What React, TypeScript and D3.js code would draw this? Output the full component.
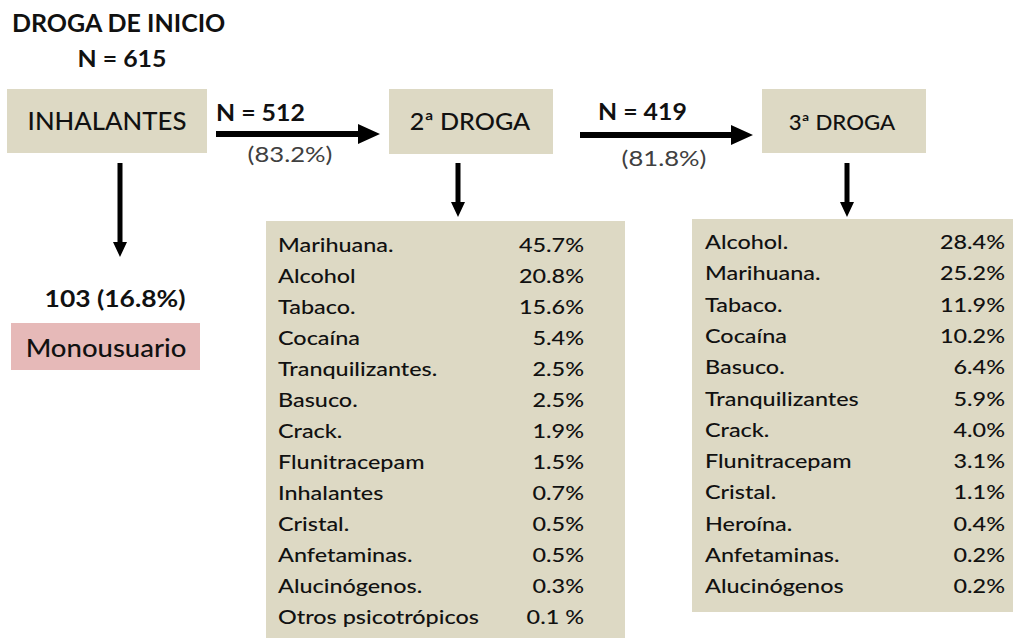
import * as d3 from "d3";

// stages of the flow
const stageLabels = ["INHALANTES", "2ª DROGA", "3ª DROGA"];
const flowN = ["N = 512", "N = 419"];
const flowPct = ["(83.2%)", "(81.8%)"];
const monoCount = "103 (16.8%)";

// second drug distribution
const secondDrugs = [
  "Marihuana.", "Alcohol", "Tabaco.", "Cocaína", "Tranquilizantes.", "Basuco.", "Crack.",
  "Flunitracepam", "Inhalantes", "Cristal.", "Anfetaminas.", "Alucinógenos.", "Otros psicotrópicos",
];
const secondPct = ["45.7%", "20.8%", "15.6%", "5.4%", "2.5%", "2.5%", "1.9%", "1.5%", "0.7%", "0.5%", "0.5%", "0.3%", "0.1 %"];

// third drug distribution
const thirdDrugs = [
  "Alcohol.", "Marihuana.", "Tabaco.", "Cocaína", "Basuco.", "Tranquilizantes", "Crack.",
  "Flunitracepam", "Cristal.", "Heroína.", "Anfetaminas.", "Alucinógenos",
];
const thirdPct = ["28.4%", "25.2%", "11.9%", "10.2%", "6.4%", "5.9%", "4.0%", "3.1%", "1.1%", "0.4%", "0.2%", "0.2%"];

const W = 1013;
const H = 638;
const FONT = "Lato, 'Open Sans', sans-serif";
const BEIGE = "#ddd9c4";
const PINK = "#e6b9b8";

function hArrow(x1: number, x2: number, y: number) {
  const t = 3, hl = 22, hh = 10;
  const p = d3.path();
  p.moveTo(x1, y - t);
  p.lineTo(x2 - hl, y - t);
  p.lineTo(x2 - hl, y - hh);
  p.lineTo(x2, y);
  p.lineTo(x2 - hl, y + hh);
  p.lineTo(x2 - hl, y + t);
  p.lineTo(x1, y + t);
  p.closePath();
  return p.toString();
}

function vArrow(x: number, y1: number, y2: number) {
  const t = 2.5, hl = 15, hw = 7;
  const p = d3.path();
  p.moveTo(x - t, y1);
  p.lineTo(x - t, y2 - hl);
  p.lineTo(x - hw, y2 - hl);
  p.lineTo(x, y2);
  p.lineTo(x + hw, y2 - hl);
  p.lineTo(x + t, y2 - hl);
  p.lineTo(x + t, y1);
  p.closePath();
  return p.toString();
}

// text with a horizontal stretch, anchored at (x, y)
function T({ x, y, size, sx = 1, anchor = "start", weight = 500, fill = "#111", children }: any) {
  return (
    <text transform={`translate(${x},${y}) scale(${sx},1)`} fontSize={size} fontWeight={weight}
      fill={fill} textAnchor={anchor}>{children}</text>
  );
}

function Table({ labels, values, x0, x1, y0, y1, labelX, valueX, firstY, step }: any) {
  const y = d3.scalePoint<string>().domain(labels).range([firstY, firstY + step * (labels.length - 1)]);
  return (
    <g>
      <rect x={x0} y={y0} width={x1 - x0} height={y1 - y0} fill={BEIGE} />
      {labels.map((l: string, i: number) => (
        <g key={l}>
          <T x={labelX} y={y(l)} size={19.5} sx={1.2}>{l}</T>
          <T x={valueX} y={y(l)} size={19.5} sx={1.2} anchor="end">{values[i]}</T>
        </g>
      ))}
    </g>
  );
}

export default function App() {
  return (
    <svg width={W} height={H} style={{ position: "absolute", left: 0, top: 0, background: "#fff" }} fontFamily={FONT}>
      {/* title */}
      <T x={12} y={32} size={25} weight={700}>DROGA DE INICIO</T>
      <T x={122} y={67} size={23} sx={1.08} weight={700} anchor="middle">N = 615</T>

      {/* stage boxes */}
      <rect x={7} y={89} width={200} height={64} fill={BEIGE} />
      <T x={107} y={130} size={25} sx={1.03} anchor="middle">{stageLabels[0]}</T>
      <rect x={389} y={89} width={164} height={65} fill={BEIGE} />
      <T x={470} y={130} size={23.5} sx={1.07} anchor="middle">{stageLabels[1]}</T>
      <rect x={762} y={89} width={164} height={64} fill={BEIGE} />
      <T x={842} y={130} size={21} sx={1.06} anchor="middle">{stageLabels[2]}</T>

      {/* flow arrows */}
      <path d={hArrow(216, 380, 134)} fill="#000" />
      <T x={216} y={121} size={23} sx={1.08} weight={700}>{flowN[0]}</T>
      <T x={290} y={162} size={21} sx={1.22} weight={400} fill="#404040" anchor="middle">{flowPct[0]}</T>
      <path d={hArrow(580, 753, 135)} fill="#000" />
      <T x={598} y={120} size={23} sx={1.08} weight={700}>{flowN[1]}</T>
      <T x={664} y={166} size={21} sx={1.22} weight={400} fill="#404040" anchor="middle">{flowPct[1]}</T>

      {/* down arrows */}
      <path d={vArrow(120, 163, 257)} fill="#000" />
      <path d={vArrow(458, 163, 217)} fill="#000" />
      <path d={vArrow(847, 163, 217)} fill="#000" />

      {/* monousuario */}
      <T x={115} y={307} size={23} sx={1.15} weight={700} anchor="middle">{monoCount}</T>
      <rect x={11} y={323} width={189} height={47} fill={PINK} />
      <T x={106} y={357} size={25} sx={1.1} anchor="middle">Monousuario</T>

      <Table labels={secondDrugs} values={secondPct} x0={266} x1={625} y0={221} y1={H}
        labelX={278} valueX={584} firstY={252} step={31} />
      <Table labels={thirdDrugs} values={thirdPct} x0={692} x1={1013} y0={219} y1={612}
        labelX={705} valueX={1005} firstY={249} step={31.3} />
    </svg>
  );
}
